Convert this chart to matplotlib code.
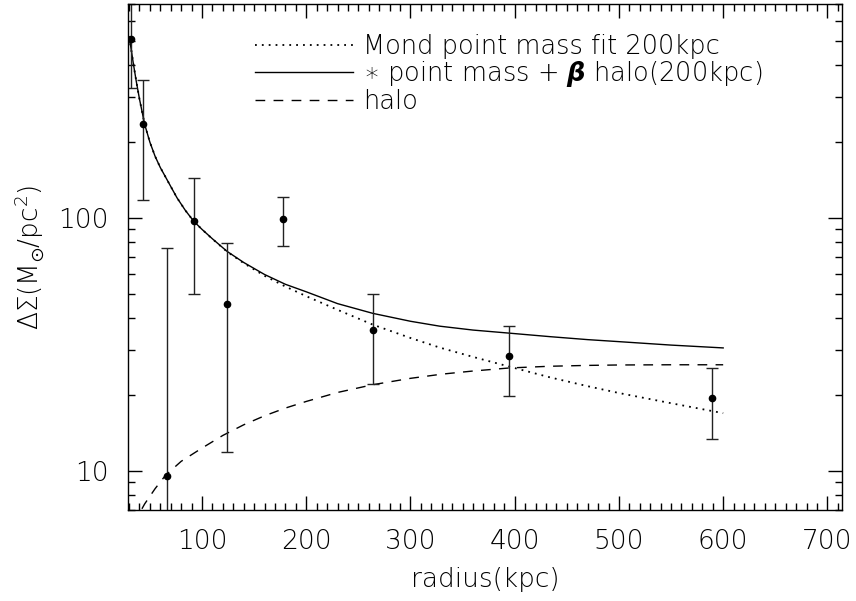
import matplotlib
matplotlib.use("Agg")
import matplotlib.pyplot as plt
from matplotlib.ticker import MultipleLocator, LogLocator, NullFormatter, FixedLocator

# ---- data ----
radius = [31.9, 43.7, 66.0, 92.3, 124.0, 177.8, 264.0, 395.0, 589.0]
dsigma = [510.0, 234.0, 9.55, 97.3, 45.7, 99.0, 36.1, 28.5, 19.4]
err_hi = [900.0, 351.0, 76.0, 144.0, 79.6, 121.0, 50.1, 37.2, 25.5]
err_lo = [327.0, 118.0, 1.0, 50.0, 11.9, 77.4, 22.1, 19.8, 13.3]

curve_r = [30, 32, 34, 37, 40, 45, 50, 55, 60, 65, 70, 76, 84, 92, 100, 110, 124,
           140, 160, 180, 200, 230, 264, 300, 328, 360, 395, 434, 470, 500, 550, 600]
mond = [520, 465, 410, 345, 295, 234, 199, 175, 158, 145, 133, 120, 107, 97, 90,
        82.5, 73.5, 66.2, 59.0, 53.5, 49.0, 43.3, 37.8, 33.5, 30.7, 28.2, 25.8,
        23.4, 21.6, 20.3, 18.5, 16.9]
total = [520, 465, 410, 345, 295, 234, 199, 175, 158, 145, 133, 120, 107, 97, 90,
         82.6, 73.7, 66.6, 59.7, 54.6, 51.0, 45.8, 41.9, 39.0, 37.3, 36.0, 35.0,
         33.9, 33.0, 32.4, 31.4, 30.6]
halo_r = [35, 40, 45, 55, 65, 80, 100, 120, 140, 160, 180, 200, 230, 264, 300,
          330, 360, 395, 434, 470, 500, 550, 600]
halo = [6.1, 6.8, 7.4, 8.5, 9.6, 10.9, 12.3, 13.8, 15.2, 16.5, 17.7, 18.8, 20.4,
        21.9, 23.2, 24.1, 24.8, 25.5, 25.9, 26.1, 26.2, 26.25, 26.25]

labels = ["Mond point mass fit 200kpc",
          r"$\ast$ point mass + $\boldsymbol{\beta}$ halo(200kpc)",
          "halo"]
xticks = [100, 200, 300, 400, 500, 600, 700]
yticks = [10, 100]

plt.rcParams['font.family'] = ['DejaVu Sans']
plt.rcParams['font.weight'] = 'light'
plt.rcParams['axes.labelweight'] = 'light'
plt.rcParams['mathtext.fontset'] = 'custom'
plt.rcParams['mathtext.rm'] = 'DejaVu Sans:light'
plt.rcParams['mathtext.it'] = 'DejaVu Sans:italic:light'
plt.rcParams['mathtext.bf'] = 'DejaVu Sans:italic:bold'
plt.rcParams['mathtext.sf'] = 'DejaVu Sans:light'

fig = plt.figure(figsize=(8.56, 6.01), dpi=100)
ax = fig.add_axes([128/856, 1-510/601, (842-128)/856, (510-4)/601])

ax.plot(curve_r, mond, color='black', lw=1.3, ls=(0, (1, 2.8)), label=labels[0])
ax.plot(curve_r, total, color='black', lw=1.0, ls='-', label=labels[1])
ax.plot(halo_r, halo, color='black', lw=1.0, ls=(0, (7, 6)), label=labels[2])

lo = [d - l for d, l in zip(dsigma, err_lo)]
hi = [h - d for d, h in zip(dsigma, err_hi)]
ax.errorbar(radius, dsigma, yerr=[lo, hi], fmt='o', color='black', ms=4.5,
            ecolor='#222222', elinewidth=1.0, capsize=4, capthick=1.0)

ax.set_yscale('log')
ax.set_xlim(29, 714)
ax.set_ylim(7, 700)

ax.xaxis.set_major_locator(FixedLocator(xticks))
ax.xaxis.set_minor_locator(MultipleLocator(10))
ax.yaxis.set_major_locator(FixedLocator(yticks))
ax.yaxis.set_minor_locator(LogLocator(base=10, subs=range(2, 10)))
ax.yaxis.set_minor_formatter(NullFormatter())
ax.set_yticklabels(['10', '100'])

ax.tick_params(which='both', direction='in', top=True, right=True, width=1.0,
               colors='black', labelsize=19)
ax.tick_params(which='major', length=10, pad=14)
ax.tick_params(which='minor', length=5)
for s in ax.spines.values():
    s.set_linewidth(1.0)

ax.set_xlabel('radius(kpc)', fontsize=19, labelpad=9, fontweight='light')
ax.set_ylabel(r'ΔΣ(M$_{⊙}$/pc$^{2}$)', fontsize=19, labelpad=9, fontweight='light')

leg = ax.legend(loc='upper left', bbox_to_anchor=(255/856, 1-34/601),
                bbox_transform=fig.transFigure, frameon=False, fontsize=18.5,
                handlelength=3.8, handletextpad=0.4, labelspacing=0.0,
                borderpad=0, borderaxespad=0)

fig.savefig('out.png', dpi=100)
